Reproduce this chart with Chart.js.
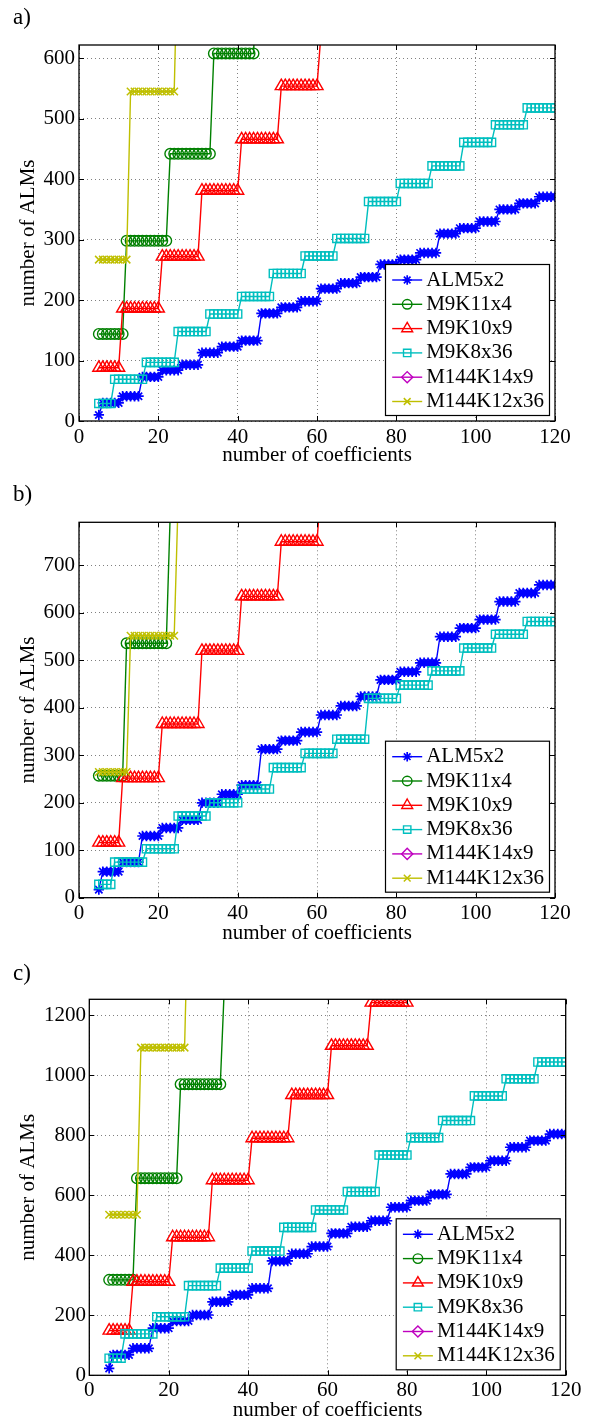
<!DOCTYPE html>
<html>
<head>
<meta charset="utf-8">
<script src="https://cdn.jsdelivr.net/npm/chart.js@4.4.0/dist/chart.umd.min.js"></script>
<style>
  html, body { margin: 0; padding: 0; background: #fff; }
  body { width: 589px; height: 1423px; position: relative; overflow: hidden; font-family: 'Liberation Serif', 'Times New Roman', serif; }
  .panel { position: absolute; left: 0; width: 589px; }
  .panel canvas { position: absolute; left: 0; top: 0; }
  .tag { position: absolute; left: 13px; font-size: 23px; line-height: 1; color: #000; }
</style>
</head>
<body>
<div class="panel" style="top:0;height:475px"><canvas id="chartA" width="589" height="475"></canvas><div class="tag" style="top:5px">a)</div></div>
<div class="panel" style="top:475px;height:475px"><canvas id="chartB" width="589" height="475"></canvas><div class="tag" style="top:7px">b)</div></div>
<div class="panel" style="top:950px;height:473px"><canvas id="chartC" width="589" height="473"></canvas><div class="tag" style="top:11px">c)</div></div>
<script>
const FONT = 'Liberation Serif';
const seriesNames = ['ALM5x2', 'M9K11x4', 'M9K10x9', 'M9K8x36', 'M144K14x9', 'M144K12x36'];
const firstCoef = 5; // every series starts at 5 coefficients, one point per coefficient
const xTicks = [0, 20, 40, 60, 80, 100, 120];
const yTicksA = [0, 100, 200, 300, 400, 500, 600];
const yTicksB = [0, 100, 200, 300, 400, 500, 600, 700];
const yTicksC = [0, 200, 400, 600, 800, 1000, 1200];

// ---- panel a) ----
const almA = [10,
  30,30,30,30,30, 41,41,41,41,41, 73,73,73,73,73, 84,84,84,84,84,
  93,93,93,93,93, 113,113,113,113,113, 123,123,123,123,123, 133,133,133,133,133,
  178,178,178,178,178, 188,188,188,188,188, 198,198,198,198,198, 219,219,219,219,219,
  228,228,228,228,228, 238,238,238,238,238, 259,259,259,259,259, 267,267,267,267,267,
  278,278,278,278,278, 310,310,310,310,310, 319,319,319,319,319, 330,330,330,330,330,
  350,350,350,350,350, 360,360,360,360,360, 371,371,371,371,371];
const m9k11A = [144,144,144,144,144,144,144,
  298,298,298,298,298,298,298,298,298,298,298,
  442,442,442,442,442,442,442,442,442,442,442,
  608,608,608,608,608,608,608,608,608,608,608,
  760,760,760,760,760,760,760,760,760,760,760];
const m9k10A = [88,88,88,88,88,88,
  186,186,186,186,186,186,186,186,186,186, 272,272,272,272,272,272,272,272,272,272,
  381,381,381,381,381,381,381,381,381,381, 466,466,466,466,466,466,466,466,466,466,
  554,554,554,554,554,554,554,554,554,554, 640,640,640,640,640,640,640,640,640,640,
  730,730,730,730,730,730,730,730,730,730];
const m9k8A = [29,29,29,29,
  69,69,69,69,69,69,69,69, 97,97,97,97,97,97,97,97,
  148,148,148,148,148,148,148,148, 177,177,177,177,177,177,177,177,
  206,206,206,206,206,206,206,206, 244,244,244,244,244,244,244,244,
  273,273,273,273,273,273,273,273, 302,302,302,302,302,302,302,302,
  363,363,363,363,363,363,363,363, 393,393,393,393,393,393,393,393,
  422,422,422,422,422,422,422,422, 461,461,461,461,461,461,461,461,
  490,490,490,490,490,490,490,490, 518,518,518,518,518,518,518,518];
const m144k14A = []; // never inside the plotted range
const m144k12A = [267,267,267,267,267,267,267,267,
  545,545,545,545,545,545,545,545,545,545,545,545,
  820,820,820,820,820,820,820,820,820,820,820,820];

// ---- panel b) ----
const almB = [17,
  55,55,55,55,55, 75,75,75,75,75, 130,130,130,130,130, 147,147,147,147,147,
  164,164,164,164,164, 200,200,200,200,200, 218,218,218,218,218, 237,237,237,237,237,
  313,313,313,313,313, 331,331,331,331,331, 349,349,349,349,349, 385,385,385,385,385,
  404,404,404,404,404, 424,424,424,424,424, 459,459,459,459,459, 476,476,476,476,476,
  495,495,495,495,495, 550,550,550,550,550, 568,568,568,568,568, 586,586,586,586,586,
  624,624,624,624,624, 642,642,642,642,642, 659,659,659,659,659];
const m9k11B = [257,257,257,257,257,257,257,
  536,536,536,536,536,536,536,536,536,536,536,
  810,810,810,810,810,810,810,810,810,810,810];
const m9k10B = [116,116,116,116,116,116,
  252,252,252,252,252,252,252,252,252,252, 366,366,366,366,366,366,366,366,366,366,
  520,520,520,520,520,520,520,520,520,520, 635,635,635,635,635,635,635,635,635,635,
  750,750,750,750,750,750,750,750,750,750, 865,865,865,865,865,865,865,865,865,865,
  980,980,980,980,980,980,980,980,980,980];
const m9k8B = [28,28,28,28,
  75,75,75,75,75,75,75,75, 103,103,103,103,103,103,103,103,
  172,172,172,172,172,172,172,172, 200,200,200,200,200,200,200,200,
  229,229,229,229,229,229,229,229, 274,274,274,274,274,274,274,274,
  304,304,304,304,304,304,304,304, 334,334,334,334,334,334,334,334,
  420,420,420,420,420,420,420,420, 448,448,448,448,448,448,448,448,
  478,478,478,478,478,478,478,478, 526,526,526,526,526,526,526,526,
  555,555,555,555,555,555,555,555, 582,582,582,582,582,582,582,582];
const m144k14B = [];
const m144k12B = [265,265,265,265,265,265,265,265,
  552,552,552,552,552,552,552,552,552,552,552,552,
  840,840,840,840,840,840,840,840,840,840,840,840];

// ---- panel c) ----
const almC = [23,
  68,68,68,68,68, 90,90,90,90,90, 157,157,157,157,157, 181,181,181,181,181,
  201,201,201,201,201, 245,245,245,245,245, 268,268,268,268,268, 290,290,290,290,290,
  381,381,381,381,381, 405,405,405,405,405, 429,429,429,429,429, 473,473,473,473,473,
  495,495,495,495,495, 515,515,515,515,515, 560,560,560,560,560, 582,582,582,582,582,
  603,603,603,603,603, 671,671,671,671,671, 693,693,693,693,693, 715,715,715,715,715,
  760,760,760,760,760, 782,782,782,782,782, 804,804,804,804,804];
const m9k11C = [318,318,318,318,318,318,318,
  657,657,657,657,657,657,657,657,657,657,657,
  970,970,970,970,970,970,970,970,970,970,970,
  1290,1290,1290,1290,1290,1290,1290,1290,1290,1290,1290];
const m9k10C = [149,149,149,149,149,149,
  312,312,312,312,312,312,312,312,312,312, 460,460,460,460,460,460,460,460,460,460,
  650,650,650,650,650,650,650,650,650,650, 790,790,790,790,790,790,790,790,790,790,
  934,934,934,934,934,934,934,934,934,934, 1098,1098,1098,1098,1098,1098,1098,1098,1098,1098,
  1242,1242,1242,1242,1242,1242,1242,1242,1242,1242];
const m9k8C = [57,57,57,57,
  138,138,138,138,138,138,138,138, 195,195,195,195,195,195,195,195,
  299,299,299,299,299,299,299,299, 357,357,357,357,357,357,357,357,
  414,414,414,414,414,414,414,414, 493,493,493,493,493,493,493,493,
  551,551,551,551,551,551,551,551, 612,612,612,612,612,612,612,612,
  734,734,734,734,734,734,734,734, 792,792,792,792,792,792,792,792,
  849,849,849,849,849,849,849,849, 931,931,931,931,931,931,931,931,
  988,988,988,988,988,988,988,988, 1044,1044,1044,1044,1044,1044,1044,1044];
const m144k14C = [];
const m144k12C = [535,535,535,535,535,535,535,535,
  1092,1092,1092,1092,1092,1092,1092,1092,1092,1092,1092,1092,
  1640,1640,1640,1640,1640,1640,1640,1640,1640,1640,1640,1640];

// MATLAB style colours / markers
const markers = [
  { color: '#0000ff', style: 'star',     radius: 5.2, width: 1.7 },
  { color: '#008000', style: 'circle',   radius: 5.3, width: 1.4 },
  { color: '#ff0000', style: 'triangle', radius: 7,   width: 1.4 },
  { color: '#00bfbf', style: 'rect',     radius: 5.8, width: 1.4 },
  { color: '#bf00bf', style: 'rectRot',  radius: 6.2, width: 1.4 },
  { color: '#bfbf00', style: 'crossRot', radius: 5.3, width: 1.5 }
];

function points(values) {
  return values.map((v, i) => ({ x: firstCoef + i, y: v }));
}

// black box round the axes, with the small ticks pointing inwards on all 4 sides
const axesBox = {
  id: 'axesBox',
  afterDatasetsDraw(chart) {
    const { ctx, chartArea: a, scales: { x, y } } = chart;
    const len = 5;
    ctx.save();
    ctx.strokeStyle = '#000';
    ctx.lineWidth = 1;
    ctx.beginPath();
    x.ticks.forEach(t => {
      const px = Math.round(x.getPixelForValue(t.value)) + 0.5;
      ctx.moveTo(px, a.bottom); ctx.lineTo(px, a.bottom - len);
      ctx.moveTo(px, a.top); ctx.lineTo(px, a.top + len);
    });
    y.ticks.forEach(t => {
      const py = Math.round(y.getPixelForValue(t.value)) + 0.5;
      ctx.moveTo(a.left, py); ctx.lineTo(a.left + len, py);
      ctx.moveTo(a.right, py); ctx.lineTo(a.right - len, py);
    });
    ctx.stroke();
    ctx.lineWidth = 1.3;
    ctx.strokeRect(a.left, a.top, a.right - a.left, a.bottom - a.top);
    ctx.restore();
  }
};

// legend box in the lower right corner, like the matlab one
const boxLegend = {
  id: 'boxLegend',
  afterDraw(chart, args, opts) {
    const { ctx, chartArea: a } = chart;
    const x0 = a.right - opts.inset - opts.width;
    const y0 = a.bottom - opts.inset - opts.height;
    ctx.save();
    ctx.fillStyle = '#fff';
    ctx.fillRect(x0, y0, opts.width, opts.height);
    ctx.strokeStyle = '#000';
    ctx.lineWidth = 1.2;
    ctx.strokeRect(x0, y0, opts.width, opts.height);
    ctx.font = opts.fontSize + 'px "' + FONT + '"';
    ctx.textBaseline = 'middle';
    ctx.textAlign = 'left';
    chart.data.datasets.forEach((ds, i) => {
      const cy = y0 + opts.firstRow + i * opts.rowGap;
      const lx = x0 + opts.lineStart;
      ctx.strokeStyle = ds.borderColor;
      ctx.lineWidth = ds.borderWidth;
      ctx.beginPath();
      ctx.moveTo(lx, cy);
      ctx.lineTo(lx + opts.lineLen, cy);
      ctx.stroke();
      ctx.fillStyle = 'rgba(0,0,0,0)';
      ctx.lineWidth = ds.pointBorderWidth;
      Chart.helpers.drawPoint(ctx, {
        pointStyle: ds.pointStyle, rotation: 0,
        radius: ds.pointRadius * 0.9, borderWidth: ds.pointBorderWidth
      }, lx + opts.lineLen / 2, cy);
      ctx.fillStyle = '#000';
      ctx.fillText(ds.label, x0 + opts.textStart, cy);
    });
    ctx.restore();
  }
};

function drawPanel(id, p) {
  const canvas = document.getElementById(id);
  const W = canvas.width, H = canvas.height;
  const font = { family: FONT, size: 21 };
  new Chart(canvas, {
    type: 'line',
    data: {
      datasets: p.series.map((vals, i) => ({
        label: seriesNames[i],
        data: points(vals),
        borderColor: markers[i].color,
        borderWidth: 1.4,
        pointStyle: markers[i].style,
        pointRadius: markers[i].radius,
        pointBorderColor: markers[i].color,
        pointBackgroundColor: 'rgba(0,0,0,0)',
        pointBorderWidth: markers[i].width,
        tension: 0,
        fill: false,
        order: seriesNames.length - i
      }))
    },
    options: {
      responsive: false,
      animation: false,
      events: [],
      layout: { padding: { left: 0, top: p.area.top, right: W - p.area.right, bottom: 0 } },
      plugins: {
        legend: { display: false },
        tooltip: { enabled: false },
        boxLegend: {
          width: 164, height: 151, inset: 5.5, fontSize: 21,
          firstRow: 15.5, rowGap: 24.3, lineStart: 6.7, lineLen: 30, textStart: 40.7
        }
      },
      scales: {
        x: {
          type: 'linear', min: 0, max: 120,
          afterFit: s => { s.height = H - p.area.bottom; },
          afterBuildTicks: s => { s.ticks = xTicks.map(v => ({ value: v })); },
          ticks: { color: '#000', font, padding: p.xTickPad, maxRotation: 0, autoSkip: false, callback: v => String(v) },
          grid: { color: '#808080', lineWidth: 1, drawTicks: false },
          border: { display: false, dash: [1, 3] },
          title: { display: true, text: 'number of coefficients', color: '#000', font, padding: { top: 0, bottom: p.xTitlePad } }
        },
        y: {
          type: 'linear', min: 0, max: p.yMax,
          afterFit: s => { s.width = p.area.left; },
          afterBuildTicks: s => { s.ticks = p.yTicks.map(v => ({ value: v })); },
          ticks: { color: '#000', font, padding: p.yTickPad, autoSkip: false, callback: v => String(v) },
          grid: { color: '#808080', lineWidth: 1, drawTicks: false },
          border: { display: false, dash: [1, 3] },
          title: { display: true, text: 'number of ALMs', color: '#000', font, padding: { top: 15.4, bottom: 0 } }
        }
      }
    },
    plugins: [axesBox, boxLegend]
  });
}

drawPanel('chartA', {
  series: [almA, m9k11A, m9k10A, m9k8A, m144k14A, m144k12A],
  yMax: 622, yTicks: yTicksA,
  area: { left: 79, right: 555, top: 45, bottom: 421 },
  xTickPad: 3.4, xTitlePad: 7.4, yTickPad: 4
});
drawPanel('chartB', {
  series: [almB, m9k11B, m9k10B, m9k8B, m144k14B, m144k12B],
  yMax: 791, yTicks: yTicksB,
  area: { left: 79, right: 555, top: 47.3, bottom: 422.7 },
  xTickPad: 2.7, xTitlePad: 4.1, yTickPad: 4
});
drawPanel('chartC', {
  series: [almC, m9k11C, m9k10C, m9k8C, m144k14C, m144k12C],
  yMax: 1253, yTicks: yTicksC,
  area: { left: 89.3, right: 565.7, top: 49.3, bottom: 425.3 },
  xTickPad: 2.4, xTitlePad: 0.4, yTickPad: 3.3
});
</script>
</body>
</html>
